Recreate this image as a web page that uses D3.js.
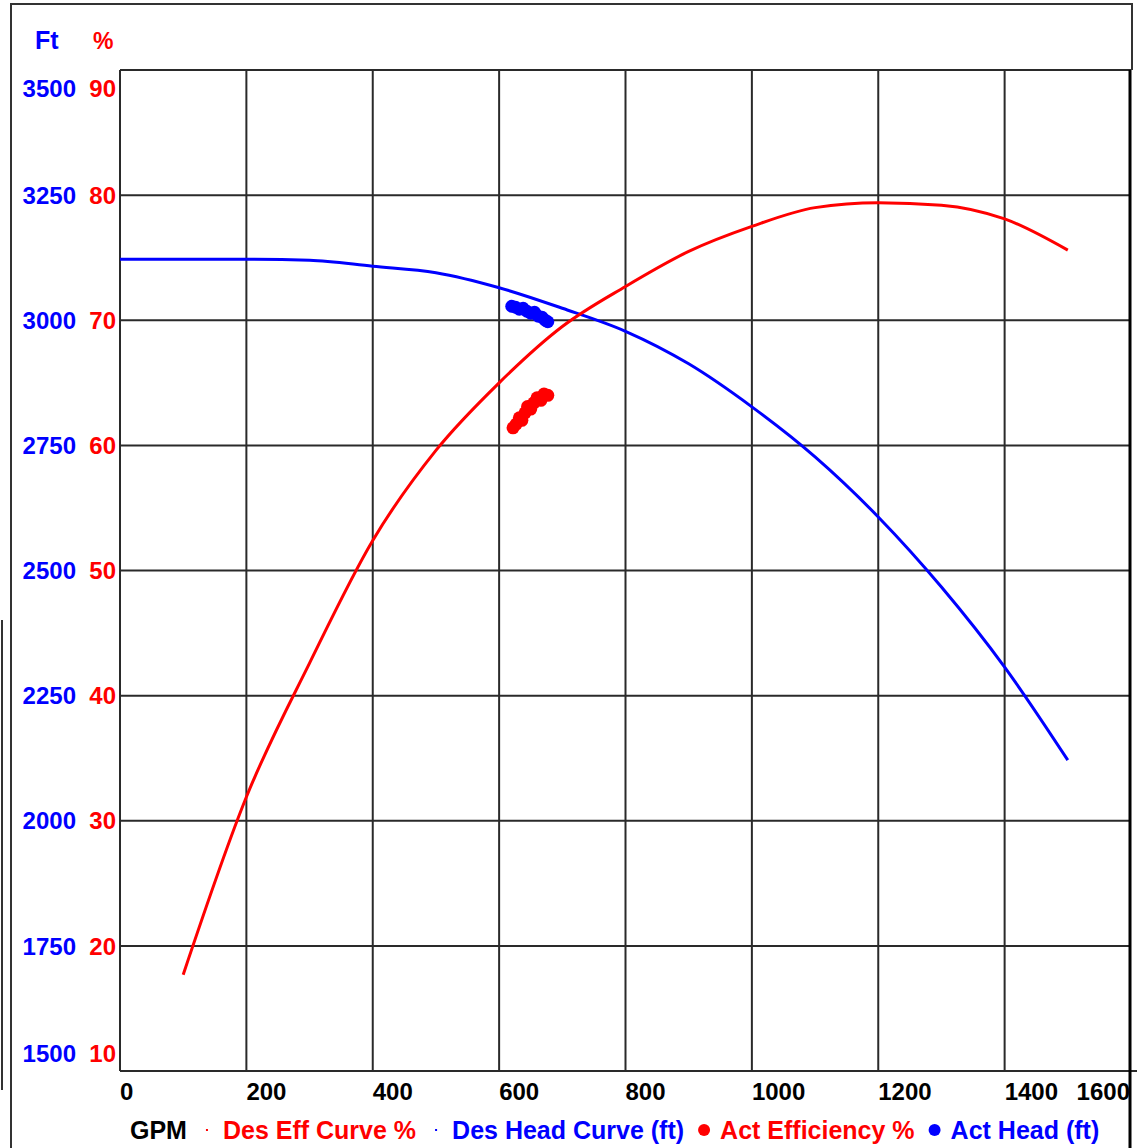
<!DOCTYPE html>
<html>
<head>
<meta charset="utf-8">
<script src="https://cdn.jsdelivr.net/npm/d3@7"></script>
<style>
  body { margin: 0; background: #fff; }
  text { font-family: "Liberation Sans", Arial, sans-serif; font-weight: bold; }
</style>
</head>
<body>
<svg id="chart" width="1137" height="1148"></svg>
<script>
// design curves
const headGpm = [0, 100, 200, 300, 400, 500, 600, 700, 800, 900, 1000, 1100, 1200, 1300, 1400, 1500];
const headFt = [3122, 3122, 3122, 3120, 3108, 3095, 3065, 3024, 2978, 2913, 2827, 2727, 2607, 2467, 2307, 2121];
const effGpm = [100, 200, 300, 400, 500, 600, 700, 800, 900, 1000, 1100, 1200, 1300, 1400, 1500];
const effPct = [17.7, 31.9, 42.6, 52.4, 59.6, 65.0, 69.5, 72.7, 75.5, 77.5, 79.0, 79.4, 79.2, 78.1, 75.6];

// actual readings
const actHead = [[620, 3028], [626, 3026], [632, 3022], [638, 3024], [644, 3018], [650, 3014], [656, 3016], [662, 3008], [668, 3006], [673, 3000], [677, 2997]];
const actEff = [[622, 61.4], [627, 61.7], [632, 62.2], [636, 62.0], [641, 62.6], [645, 63.1], [650, 62.9], [655, 63.4], [660, 63.8], [666, 63.6], [671, 64.1], [677, 64.0]];

const xTicks = [0, 200, 400, 600, 800, 1000, 1200, 1400, 1600];
const ftTicks = [1500, 1750, 2000, 2250, 2500, 2750, 3000, 3250, 3500];
const pctTicks = [10, 20, 30, 40, 50, 60, 70, 80, 90];

const legendItems = [
  { label: "GPM", color: "#000", mark: "none" },
  { label: "Des Eff Curve %", color: "#f00", mark: "small" },
  { label: "Des Head Curve (ft)", color: "#00f", mark: "small" },
  { label: "Act Efficiency %", color: "#f00", mark: "big" },
  { label: "Act Head (ft)", color: "#00f", mark: "big" }
];

const svg = d3.select("#chart");
const pLeft = 120, pRight = 1131, pTop = 70, pBottom = 1071;

const x = d3.scaleLinear().domain([0, 1600]).range([pLeft, pRight]);
const yFt = d3.scaleLinear().domain([1500, 3500]).range([pBottom, pTop]);
const yPct = d3.scaleLinear().domain([10, 90]).range([pBottom, pTop]);

// outer frame bits
svg.append("path")
  .attr("d", `M11,1148 V4 H1132 V${pTop}`)
  .attr("fill", "none").attr("stroke", "#333").attr("stroke-width", 2);
svg.append("line")
  .attr("x1", 2).attr("x2", 2).attr("y1", 620).attr("y2", 1090)
  .attr("stroke", "#333").attr("stroke-width", 2);

// grid
const grid = svg.append("g").attr("stroke", "#2a2a2a").attr("stroke-width", 2);
grid.selectAll(".vx").data(xTicks.slice(0, -1)).join("line")
  .attr("x1", d => x(d)).attr("x2", d => x(d))
  .attr("y1", pTop).attr("y2", pBottom);
grid.selectAll(".hy").data(ftTicks).join("line")
  .attr("x1", pLeft).attr("x2", d => d === 1500 ? 1137 : pRight)
  .attr("y1", d => yFt(d)).attr("y2", d => yFt(d));
svg.append("line")
  .attr("x1", pRight - 1).attr("x2", pRight - 1).attr("y1", pTop).attr("y2", 1148)
  .attr("stroke", "#000").attr("stroke-width", 3);

// axis labels
svg.append("text").attr("x", 35).attr("y", 49).attr("fill", "#00f")
  .attr("font-size", 25).text("Ft");
svg.append("text").attr("x", 93).attr("y", 49).attr("fill", "#f00")
  .attr("font-size", 23).text("%");

const labY = v => Math.min(1053, Math.max(88, v));
svg.selectAll(".ftl").data(ftTicks).join("text")
  .attr("x", 76).attr("y", d => labY(yFt(d)))
  .attr("dy", "0.36em").attr("text-anchor", "end")
  .attr("fill", "#00f").attr("font-size", 24)
  .text(d => d);
svg.selectAll(".pcl").data(pctTicks).join("text")
  .attr("x", 116).attr("y", d => labY(yPct(d)))
  .attr("dy", "0.36em").attr("text-anchor", "end")
  .attr("fill", "#f00").attr("font-size", 24)
  .text(d => d);
svg.selectAll(".xl").data(xTicks).join("text")
  .attr("x", d => d === 1600 ? pRight - 1 : x(d))
  .attr("y", 1100)
  .attr("text-anchor", d => d === 1600 ? "end" : "start")
  .attr("fill", "#000").attr("font-size", 24)
  .text(d => d);

// curves
const line = d3.line().x(d => x(d[0])).y(d => d[1]).curve(d3.curveMonotoneX);
svg.append("path")
  .datum(headGpm.map((g, i) => [g, yFt(headFt[i])]))
  .attr("d", line).attr("fill", "none")
  .attr("stroke", "#00f").attr("stroke-width", 3);
svg.append("path")
  .datum(effGpm.map((g, i) => [g, yPct(effPct[i])]))
  .attr("d", line).attr("fill", "none")
  .attr("stroke", "#f00").attr("stroke-width", 3);

svg.selectAll(".ah").data(actHead).join("circle")
  .attr("cx", d => x(d[0])).attr("cy", d => yFt(d[1]))
  .attr("r", 6.5).attr("fill", "#00f");
svg.selectAll(".ae").data(actEff).join("circle")
  .attr("cx", d => x(d[0])).attr("cy", d => yPct(d[1]))
  .attr("r", 6.5).attr("fill", "#f00");

// legend
const lg = svg.append("g");
let lx = 130;
const ly = 1139;
legendItems.forEach(item => {
  if (item.mark === "small") {
    lg.append("rect").attr("x", lx - 1).attr("y", ly - 10).attr("width", 2).attr("height", 2)
      .attr("fill", item.color);
    lx += 16;
  } else if (item.mark === "big") {
    lg.append("circle").attr("cx", lx).attr("cy", ly - 9).attr("r", 6).attr("fill", item.color);
    lx += 16;
  }
  const t = lg.append("text").attr("x", lx).attr("y", ly)
    .attr("fill", item.color).attr("font-size", 25).text(item.label);
  lx += t.node().getComputedTextLength() + 20;
});
</script>
</body>
</html>
